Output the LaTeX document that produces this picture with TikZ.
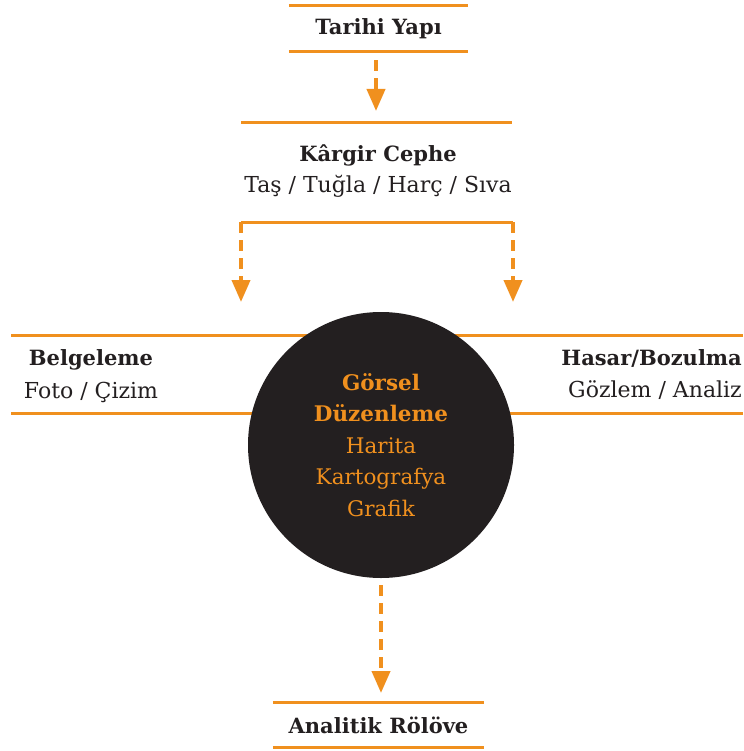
\documentclass[tikz,border=0pt]{standalone}
\usepackage{fontspec}
\setmainfont{DejaVu Serif}
\usetikzlibrary{arrows.meta,calc}
\pgfdeclarelayer{background}
\pgfsetlayers{background,main}
\definecolor{turuncu}{RGB}{240,144,30}
\definecolor{koyu}{RGB}{35,31,32}

\begin{document}
\begin{tikzpicture}[x=1pt,y=-1pt,
  cizgi/.style={turuncu,line width=3pt},
  okcizgi/.style={turuncu,line width=4pt,dash pattern=on 11pt off 7pt,
    -{Triangle[width=18pt,length=22pt]}},
  baslik/.style={text=koyu,inner sep=0pt,font=\fontsize{21}{24}\selectfont\bfseries},
  altyazi/.style={text=koyu,inner sep=0pt,font=\fontsize{22}{26}\selectfont}]
\useasboundingbox (0,0) rectangle (743,751);

% ust kutu
\node[baslik,minimum width=179pt,minimum height=45pt] (tarihi) at (378.5,28.5) {Tarihi Yap\i};
\draw[cizgi] (tarihi.north west) -- (tarihi.north east);
\draw[cizgi] (tarihi.south west) -- (tarihi.south east);

% cephe
\coordinate (CepheSol) at (241,123);
\coordinate (CepheSag) at (512,123);
\draw[cizgi] (CepheSol) -- (CepheSag);
\node[baslik] (kargir) at (378,155) {Kârgir Cephe};
\node[altyazi] (malzeme) at (378,186) {Taş / Tuğla / Harç / Sıva};
\coordinate (UstOk) at (376,111);
\draw[okcizgi] ([yshift=-9pt]tarihi.south -| UstOk) -- (UstOk);

% ayrim
\coordinate (AyrimSol) at (241,222);
\coordinate (AyrimSag) at (513,222);
\coordinate (SolOk) at (241,302);
\coordinate (SagOk) at (513,302);
\draw[cizgi] (AyrimSol) -- (AyrimSag);
\draw[okcizgi] (AyrimSol) -- (SolOk);
\draw[okcizgi] (AyrimSag) -- (SagOk);

% merkez daire
\node[circle,fill=koyu,minimum size=266pt,inner sep=0pt] (gorsel) at (381,445) {};
\node[align=center,text=turuncu,inner sep=0pt,font=\fontsize{21.5}{31.5}\selectfont] (gorselyazi) at (gorsel.center)
  {\textbf{Görsel}\\\textbf{Düzenleme}\\Harita\\Kartografya\\Grafik};

\coordinate (SolUst) at (11,335);
\coordinate (SolAlt) at (11,413);
\coordinate (SagUst) at (743,335);
\coordinate (SagAlt) at (743,413);
\begin{pgfonlayer}{background}
  \draw[cizgi] (SolUst) -- (SolUst -| gorsel.center);
  \draw[cizgi] (SolAlt) -- (SolAlt -| gorsel.center);
  \draw[cizgi] (SagUst) -- (SagUst -| gorsel.center);
  \draw[cizgi] (SagAlt) -- (SagAlt -| gorsel.center);
\end{pgfonlayer}

\node[baslik] (belge) at (91,360) {Belgeleme};
\node[altyazi] (foto) at (91,392) {Foto / Çizim};
\node[baslik,anchor=east] (hasar) at (742,358) {Hasar/Bozulma};
\node[altyazi,anchor=east] (gozlem) at (742,390) {Gözlem / Analiz};

% alt kutu
\node[baslik,minimum width=211pt,minimum height=44pt] (rolove) at (378.5,725) {Analitik Rölöve};
\draw[cizgi] (rolove.north west) -- (rolove.north east);
\draw[cizgi] (rolove.south west) -- (rolove.south east);
\coordinate (AltOk) at (381,693);
\draw[okcizgi] ([yshift=-7pt]gorsel.south) -- (AltOk);
\end{tikzpicture}
\end{document}
